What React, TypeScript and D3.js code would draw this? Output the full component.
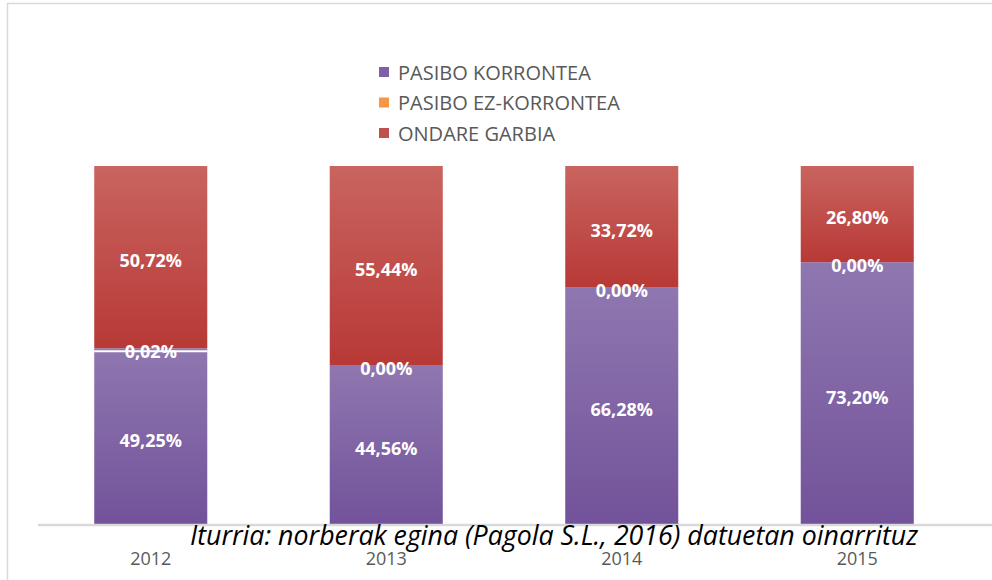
import React from "react";
import * as d3 from "d3";

const years = ["2012", "2013", "2014", "2015"];
const pasiboKorrontea = [49.25, 44.56, 66.28, 73.2];
const pasiboEzKorrontea = [0.02, 0.0, 0.0, 0.0];
const ondareGarbia = [50.72, 55.44, 33.72, 26.8];
const seriesNames = ["PASIBO KORRONTEA", "PASIBO EZ-KORRONTEA", "ONDARE GARBIA"];
const sourceText = "Iturria: norberak egina (Pagola S.L., 2016) datuetan oinarrituz";

const W = 992;
const H = 580;
const gradIds = ["gPurple", "gOrange", "gRed"];
const legendColors = ["#7f5fa8", "#f79646", "#c0504d"];

function fmt(v: number) {
  return v.toFixed(2).replace(".", ",") + "%";
}

export default function App() {
  const x = d3.scaleBand<string>().domain(years).range([33, 975]).paddingInner(0.52).paddingOuter(0.26);
  const y = d3.scaleLinear().domain([0, 100]).range([525, 166]);

  const rows = years.map((yr, i) => ({
    year: yr,
    PK: pasiboKorrontea[i],
    PE: pasiboEzKorrontea[i],
    OG: ondareGarbia[i],
  }));
  const keys = ["PK", "PE", "OG"];
  const stack = d3.stack<any>().keys(keys);
  const stacked = stack(rows);

  const font = "'Open Sans', 'Liberation Sans', sans-serif";

  return (
    <svg
      width={W}
      height={H}
      style={{ position: "absolute", left: 0, top: 0, background: "#fff" }}
    >
      <defs>
        <linearGradient id="gPurple" x1="0" y1="0" x2="0" y2="1">
          <stop offset="0" stopColor="#8f77b0" />
          <stop offset="1" stopColor="#72529a" />
        </linearGradient>
        <linearGradient id="gOrange" x1="0" y1="0" x2="0" y2="1">
          <stop offset="0" stopColor="#f9a15f" />
          <stop offset="1" stopColor="#f28a30" />
        </linearGradient>
        <linearGradient id="gRed" x1="0" y1="0" x2="0" y2="1">
          <stop offset="0" stopColor="#c9645f" />
          <stop offset="1" stopColor="#b83936" />
        </linearGradient>
      </defs>
      <rect x={7.5} y={3.5} width={W + 20} height={H + 20} fill="#fff" stroke="#d9d9d9" strokeWidth={1.5} />

      {/* Legend */}
      {seriesNames.map((n, i) => (
        <g key={n} transform={`translate(379, ${72 + i * 30.5})`}>
          <rect x={0} y={-5} width={10} height={10} fill={legendColors[i]} />
          <text x={19} y={0} dominantBaseline="central" fontFamily={font} fontSize={20} fill="#595959">
            {n}
          </text>
        </g>
      ))}

      {/* Bars */}
      {stacked.map((s, si) =>
        s.map((d, i) => {
          const y0 = y(d[0]);
          const y1 = y(d[1]);
          return (
            <rect
              key={`${si}-${i}`}
              x={x(years[i])}
              y={y1}
              width={x.bandwidth()}
              height={Math.max(0, y0 - y1)}
              fill={`url(#${gradIds[si]})`}
            />
          );
        })
      )}

      {/* white divider where the tiny orange slice sits */}
      {years.map((yr, i) =>
        pasiboEzKorrontea[i] > 0 ? (
          <line
            key={`w${yr}`}
            x1={x(yr)}
            x2={(x(yr) as number) + x.bandwidth()}
            y1={y(pasiboKorrontea[i]) + 3}
            y2={y(pasiboKorrontea[i]) + 3}
            stroke="#fff"
            strokeWidth={2}
          />
        ) : null
      )}

      {/* Labels */}
      {stacked.map((s, si) =>
        s.map((d, i) => {
          const cy = (y(d[0]) + y(d[1])) / 2 + 3;
          const vals = [pasiboKorrontea, pasiboEzKorrontea, ondareGarbia][si];
          return (
            <text
              key={`l${si}-${i}`}
              x={(x(years[i]) as number) + x.bandwidth() / 2}
              y={cy}
              textAnchor="middle"
              dominantBaseline="central"
              fontFamily={font}
              fontWeight="bold"
              fontSize={18}
              fill="#fff"
            >
              {fmt(vals[i])}
            </text>
          );
        })
      )}

      {/* Axis line */}
      <line x1={38} x2={W} y1={525} y2={525} stroke="#d9d9d9" strokeWidth={2.5} />

      {/* Year labels */}
      {years.map((yr) => (
        <text
          key={yr}
          x={(x(yr) as number) + x.bandwidth() / 2}
          y={558}
          textAnchor="middle"
          dominantBaseline="central"
          fontFamily={font}
          fontSize={18}
          fill="#595959"
        >
          {yr}
        </text>
      ))}

      {/* Source */}
      <text
        x={190}
        y={545}
        fontFamily={font}
        fontStyle="italic"
        fontSize={27}
        fill="#000"
        textLength={728}
        lengthAdjust="spacingAndGlyphs"
      >
        {sourceText}
      </text>
    </svg>
  );
}
